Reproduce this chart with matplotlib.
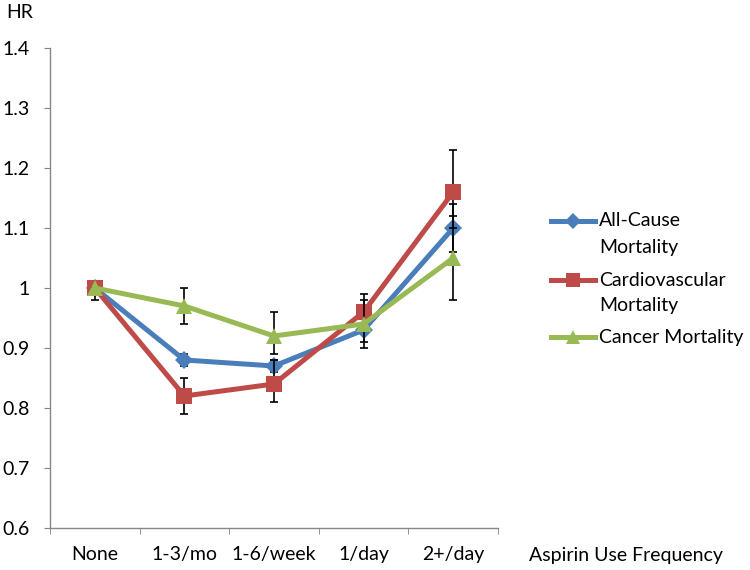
import matplotlib
matplotlib.use("Agg")
import matplotlib.pyplot as plt
from matplotlib.lines import Line2D
import numpy as np

plt.rcParams['font.family'] = ['Lato', 'DejaVu Sans']

categories = ["None", "1-3/mo", "1-6/week", "1/day", "2+/day"]
series_names = ["All-Cause\nMortality", "Cardiovascular\nMortality", "Cancer Mortality"]

all_cause = [1.00, 0.88, 0.87, 0.93, 1.10]
all_cause_lo = [1.00, 0.87, 0.86, 0.91, 1.06]
all_cause_hi = [1.00, 0.89, 0.88, 0.95, 1.14]

cardio = [1.00, 0.82, 0.84, 0.96, 1.16]
cardio_lo = [1.00, 0.79, 0.81, 0.93, 1.10]
cardio_hi = [1.00, 0.85, 0.88, 0.99, 1.23]

cancer = [1.00, 0.97, 0.92, 0.94, 1.05]
cancer_lo = [0.98, 0.94, 0.89, 0.90, 0.98]
cancer_hi = [1.00, 1.00, 0.96, 0.98, 1.12]

yticks = [0.6, 0.7, 0.8, 0.9, 1.0, 1.1, 1.2, 1.3, 1.4]
ytick_labels = ["0.6", "0.7", "0.8", "0.9", "1", "1.1", "1.2", "1.3", "1.4"]

colors = ["#4A7EBB", "#BE4B48", "#98B954"]
markers = ["D", "s", "^"]
msizes = [9, 11.5, 12]

FS = 14

fig = plt.figure(figsize=(7.5, 5.7), dpi=100)
ax = fig.add_axes([50/750, 1-528/570, 448/750, 480/570])

x = np.arange(len(categories))
data = [(all_cause, all_cause_lo, all_cause_hi),
        (cardio, cardio_lo, cardio_hi),
        (cancer, cancer_lo, cancer_hi)]

for i, (vals, lo, hi) in enumerate(data):
    v = np.array(vals); l = np.array(lo); h = np.array(hi)
    yerr = np.vstack([v - l, h - v])
    ax.errorbar(x, v, yerr=yerr, fmt='none', ecolor='black', elinewidth=1.2,
                capsize=3.2, capthick=1.2, zorder=2 + 2*i)
    ax.plot(x, v, color=colors[i], marker=markers[i], markersize=msizes[i],
            linewidth=3.6, zorder=3 + 2*i, markeredgewidth=0)

ax.set_xlim(-0.5, len(categories) - 0.5)
ax.set_ylim(0.6, 1.4)
ax.set_yticks(yticks)
ax.set_yticklabels(ytick_labels)
ax.set_xticks(x)
ax.set_xticklabels(categories)
ax.set_xticks(np.arange(-0.5, len(categories)), minor=True)

for s in ["top", "right"]:
    ax.spines[s].set_visible(False)
for s in ["left", "bottom"]:
    ax.spines[s].set_color("#868686")
    ax.spines[s].set_linewidth(1.0)

ax.tick_params(axis='y', which='major', length=4.5, color="#868686", pad=10,
               labelsize=FS, labelcolor="black")
ax.tick_params(axis='x', which='major', length=0, pad=13, labelsize=FS)
ax.tick_params(axis='x', which='minor', length=4.5, color="#868686")

fig.text(6/750, 1-12/570, "HR", fontsize=FS, ha='left', va='center')
fig.text(626/750, 1-556/570, "Aspirin Use Frequency", fontsize=FS, ha='center', va='center')

# legend (manual)
leg_y = [221, 280, 337]
for i in range(3):
    yy = 1 - leg_y[i]/570
    fig.add_artist(Line2D([551/750, 595/750], [yy, yy], color=colors[i], linewidth=3.6))
    fig.add_artist(Line2D([573/750], [yy], color=colors[i], marker=markers[i],
                          markersize=msizes[i]*0.85, markeredgewidth=0))
    lines = series_names[i].split("\n")
    for j, t in enumerate(lines):
        fig.text(599/750, yy - j*26/570, t, fontsize=FS, ha='left', va='center')

fig.savefig("out.png", dpi=100)
